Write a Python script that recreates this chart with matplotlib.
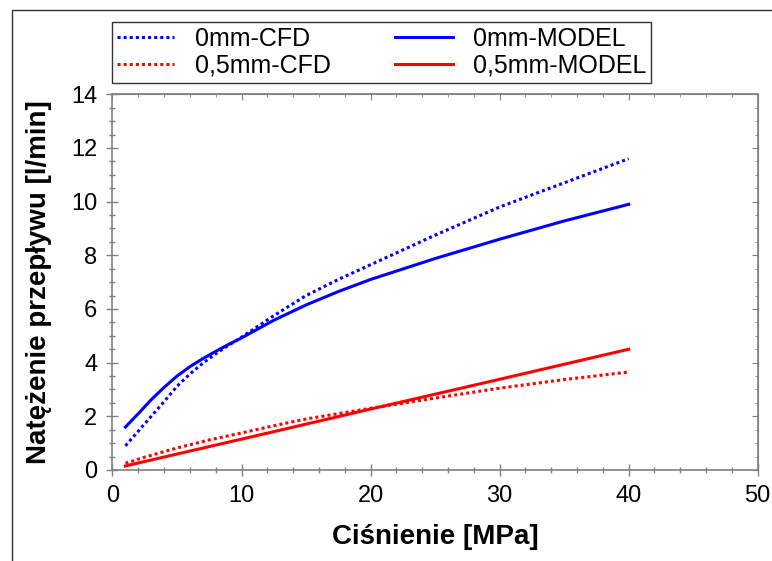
import matplotlib
matplotlib.use('Agg')
import matplotlib.pyplot as plt
from matplotlib.patches import Rectangle
from matplotlib.ticker import MultipleLocator

plt.rcParams['font.family'] = ['Liberation Sans', 'DejaVu Sans']

# values
p_cfd0 = [1, 2, 3, 4, 5, 6, 7, 8, 9, 10, 12.5, 15, 17.5, 20, 25, 30, 35, 40]
q_cfd0 = [0.9, 1.45, 2.0, 2.55, 3.12, 3.58, 3.98, 4.33, 4.65, 4.95, 5.75, 6.5, 7.1, 7.65,
          8.75, 9.8, 10.7, 11.6]
p_model0 = [1, 2, 3, 4, 5, 6, 7, 8, 9, 10, 12.5, 15, 17.5, 20, 25, 30, 35, 40]
q_model0 = [1.6, 2.1, 2.62, 3.08, 3.5, 3.85, 4.15, 4.42, 4.68, 4.92, 5.58, 6.15, 6.65, 7.1,
            7.88, 8.6, 9.28, 9.9]
p_cfd05 = [1, 2.5, 5, 7.5, 10, 12.5, 15, 17.5, 20, 25, 30, 35, 40]
q_cfd05 = [0.25, 0.48, 0.82, 1.12, 1.38, 1.65, 1.9, 2.1, 2.3, 2.68, 3.05, 3.37, 3.65]
p_model05 = [1, 10, 20, 30, 40]
q_model05 = [0.15, 1.15, 2.27, 3.38, 4.5]

W, H = 772, 561
fig = plt.figure(figsize=(W / 100, H / 100), dpi=100)
ax = fig.add_axes([112.5 / W, 1 - 470 / H, (757.7 - 112.5) / W, (470 - 94.3) / H])

dot = (0, (1, 1))
l1, = ax.plot(p_cfd0, q_cfd0, color='#0000ff', lw=2.2, ls=dot, label='0mm-CFD')
l2, = ax.plot(p_model0, q_model0, color='#0000ff', lw=2.2, label='0mm-MODEL')
l3, = ax.plot(p_cfd05, q_cfd05, color='#ff0000', lw=2.2, ls=dot, label='0,5mm-CFD')
l4, = ax.plot(p_model05, q_model05, color='#ff0000', lw=2.2, label='0,5mm-MODEL')

ax.set_xlim(0, 50)
ax.set_ylim(0, 14)
ax.xaxis.set_major_locator(MultipleLocator(10))
ax.xaxis.set_minor_locator(MultipleLocator(2))
ax.yaxis.set_major_locator(MultipleLocator(2))
ax.yaxis.set_minor_locator(MultipleLocator(0.5))

gray = '#808080'
for s in ax.spines.values():
    s.set_color(gray)
    s.set_linewidth(1.2)
ax.tick_params(which='both', direction='inout', color=gray, labelsize=17, width=1)
ax.tick_params(which='major', length=8, pad=7)
ax.tick_params(which='minor', length=5)

top = ax.secondary_xaxis('top')
top.xaxis.set_major_locator(MultipleLocator(10))
top.xaxis.set_minor_locator(MultipleLocator(2))
top.tick_params(which='both', direction='in', color=gray, labeltop=False)
top.tick_params(which='major', length=4)
top.tick_params(which='minor', length=2.5)
top.spines['top'].set_color(gray)
right = ax.secondary_yaxis('right')
right.yaxis.set_major_locator(MultipleLocator(2))
right.yaxis.set_minor_locator(MultipleLocator(0.5))
right.tick_params(which='both', direction='in', color=gray, labelright=False)
right.tick_params(which='major', length=4)
right.tick_params(which='minor', length=2.5)
right.spines['right'].set_color(gray)

ax.set_xlabel('Ciśnienie [MPa]', fontsize=20, fontweight='bold', labelpad=12)
ax.set_ylabel('Natężenie przepływu [l/min]', fontsize=20, fontweight='bold', labelpad=14)

leg = fig.legend([l1, l3, l2, l4], ['0mm-CFD', '0,5mm-CFD', '0mm-MODEL', '0,5mm-MODEL'],
                 ncol=2, loc='upper left', bbox_to_anchor=(112 / W, 1 - 22 / H),
                 fontsize=18, frameon=True, fancybox=False, edgecolor='black',
                 handlelength=2.3, handletextpad=0.8, columnspacing=2.6,
                 borderpad=0.2, labelspacing=0.1, borderaxespad=0)
leg.get_frame().set_linewidth(1)

# outer frame of the figure
fig.patches.append(Rectangle((12 / W, -0.1), 2, 1.1 - 10 / H, transform=fig.transFigure,
                             fill=False, edgecolor='#333333', lw=1))

fig.savefig('out.png', dpi=100)
